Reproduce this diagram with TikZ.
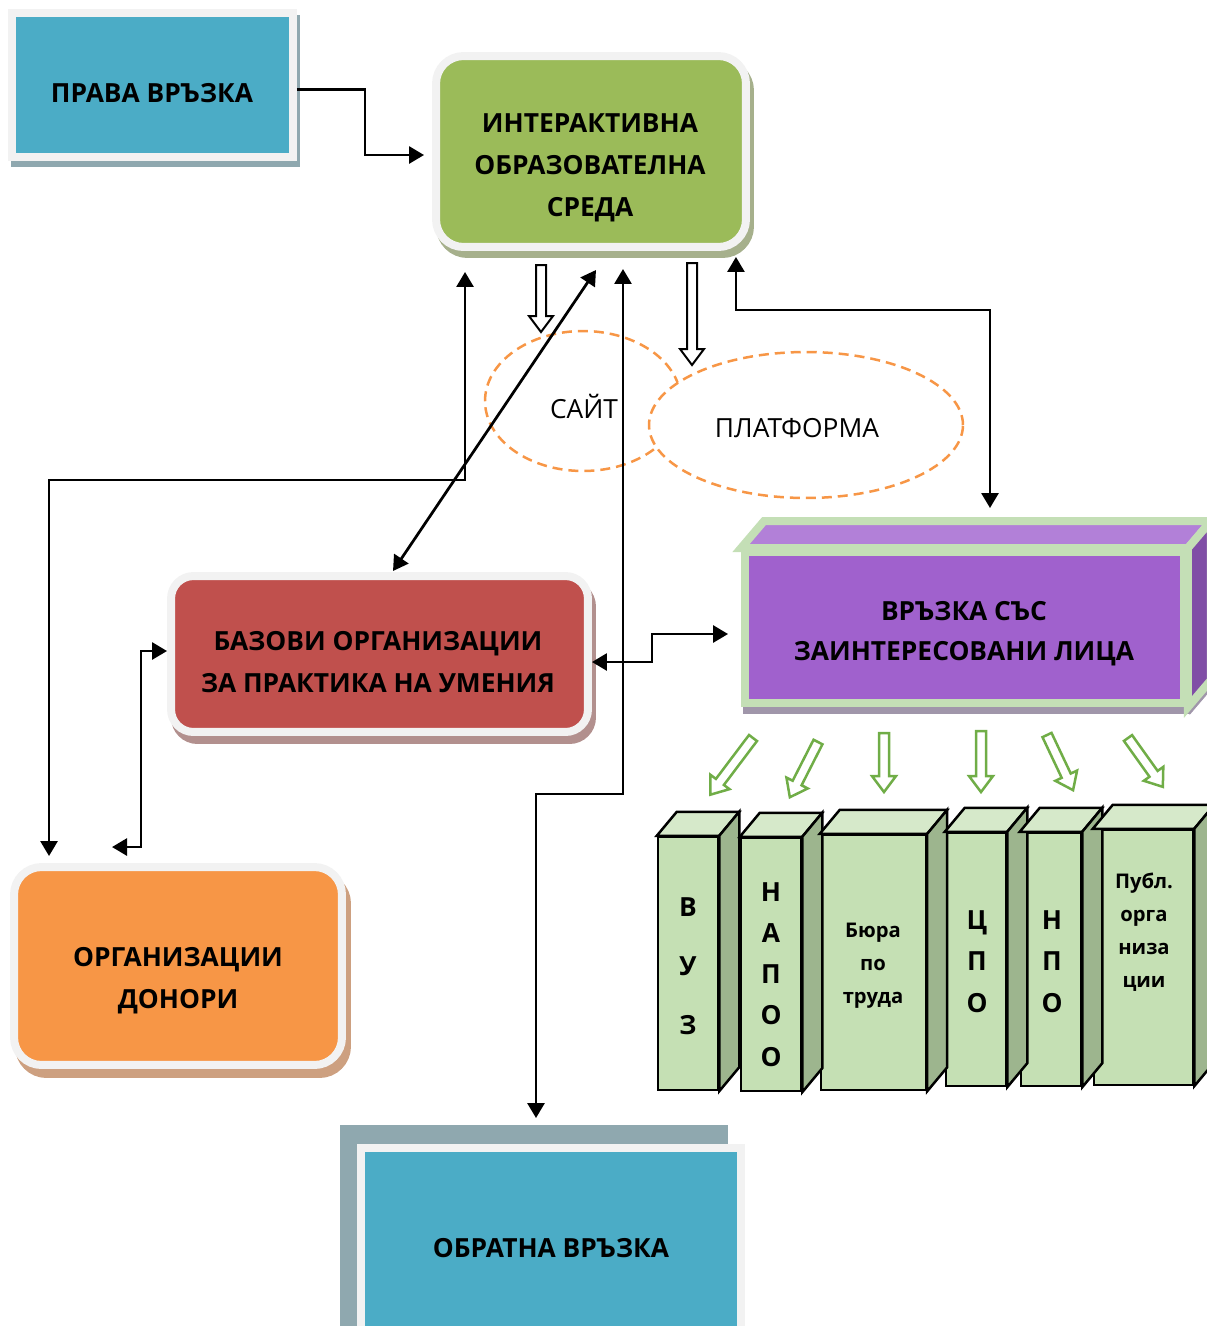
\documentclass[tikz,border=0pt]{standalone}
\usepackage{fontspec}
\setmainfont{Open Sans}
\usetikzlibrary{shapes.geometric}
\usetikzlibrary{arrows.meta}
\usetikzlibrary{calc}

\definecolor{boxblue}{RGB}{75,172,198}
\definecolor{framegray}{RGB}{242,242,242}
\definecolor{blueshadow}{RGB}{143,168,175}
\definecolor{boxgreen}{RGB}{155,187,89}
\definecolor{greenshadow}{RGB}{166,176,140}
\definecolor{boxred}{RGB}{192,80,77}
\definecolor{redshadow}{RGB}{178,144,142}
\definecolor{boxorange}{RGB}{247,150,70}
\definecolor{orangeshadow}{RGB}{205,160,128}
\definecolor{purplefront}{RGB}{160,97,205}
\definecolor{purpletop}{RGB}{178,128,216}
\definecolor{purpleside}{RGB}{128,78,166}
\definecolor{purpleedge}{RGB}{196,223,182}
\definecolor{purpleshadow}{RGB}{160,150,170}
\definecolor{bookfront}{RGB}{197,224,180}
\definecolor{bookpale}{RGB}{214,233,202}
\definecolor{bookdark}{RGB}{157,181,142}
\definecolor{arrowgreen}{RGB}{112,173,71}
\definecolor{dashorange}{RGB}{247,150,70}

% block arrow: style, tail x, tail y, angle, length
\newcommand{\blockarrow}[5]{%
  \draw[#1, shift={(#2,#3)}, rotate=#4]
    (0,-5) -- (#5-16,-5) -- (#5-16,-12) -- (#5,0) -- (#5-16,12) -- (#5-16,5) -- (0,5) -- cycle;}

\begin{document}
\begin{tikzpicture}[x=0.02cm, y=-0.02cm,
    >={Triangle[length=0.3cm,width=0.34cm]},
    box/.style={draw=framegray, line width=0.16cm, inner sep=0pt},
    shadowed/.style n args={3}{preaction={draw=#1, fill=#1, transform canvas={xshift=#2, yshift=#3}}},
    lbl/.style={font=\fontsize{15}{24}\selectfont\bfseries, align=center},
    letters/.style={font=\fontsize{15}{#1}\selectfont\bfseries, align=center},
    small/.style={font=\fontsize{11.5}{18.8}\selectfont\bfseries, align=center},
    conn/.style={line width=0.055cm, <->},
    bubble/.style={ellipse, draw=dashorange, line width=0.05cm, dash pattern=on 0.2cm off 0.12cm, inner sep=0pt},
    bubbletxt/.style={font=\fontsize{15}{18}\selectfont},
    book/.style={draw=black, line width=0.05cm, fill=bookfront, inner sep=0pt},
    topface/.style={draw=black, line width=0.05cm, fill=bookpale},
    sideface/.style={draw=black, line width=0.05cm, fill=bookdark},
    hollow/.style={draw=black, line width=0.04cm, fill=white},
    ghollow/.style={draw=arrowgreen, line width=0.05cm, fill=white},
]
    \useasboundingbox (0,0) rectangle (1207,1326);

    % Top boxes
    \node[box, fill=boxblue, shadowed={blueshadow}{0.06cm}{-0.12cm},
          minimum width=5.62cm, minimum height=2.89cm] (prava) at (152.5,84.75) {};
    \node[lbl] (pravatxt) at (152,93) {ПРАВА ВРЪЗКА};

    \node[box, fill=boxgreen, rounded corners=0.55cm, shadowed={greenshadow}{0.08cm}{-0.14cm},
          minimum width=6.2cm, minimum height=3.82cm] (sreda) at (591,151.5) {};
    \node[lbl] (sredatxt) at (590,168) {ИНТЕРАКТИВНА\\ОБРАЗОВАТЕЛНА\\СРЕДА};

    % Hollow arrows below the platform
    \blockarrow{hollow}{541}{265}{-90}{67}
    \blockarrow{hollow}{692}{263}{-90}{102}

    % Site and platform
    \node[bubble, minimum width=3.92cm, minimum height=2.8cm] (sait) at (583,401) {};
    \node[bubbletxt] (saittxt) at (584,406) {САЙТ};
    \node[bubble, fill=white, minimum width=6.28cm, minimum height=2.92cm] (platforma) at (806,425) {};
    \node[bubbletxt] (platformatxt) at (797,428) {ПЛАТФОРМА};

    % Middle boxes
    \node[box, fill=boxred, rounded corners=0.45cm, shadowed={redshadow}{0.08cm}{-0.16cm},
          minimum width=8.34cm, minimum height=3.12cm] (bazovi) at (379.5,654) {};
    \node[lbl] (bazovitxt) at (378,662) {БАЗОВИ ОРГАНИЗАЦИИ\\ЗА ПРАКТИКА НА УМЕНИЯ};

    \node[draw=purpleedge, line width=0.16cm, fill=purplefront, inner sep=0pt,
          shadowed={purpleshadow}{0.04cm}{-0.14cm},
          minimum width=8.78cm, minimum height=3.02cm] (vrazka) at (964.5,627.5) {};
    \draw[draw=purpleedge, line width=0.16cm, fill=purpletop]
        (vrazka.north west) -- ++(23,-27) -- ($(vrazka.north east)+(23,-27)$) -- (vrazka.north east) -- cycle;
    \draw[draw=purpleedge, line width=0.16cm, fill=purpleside, shadowed={purpleshadow}{0.04cm}{-0.14cm}]
        (vrazka.north east) -- ++(23,-27) -- ($(vrazka.south east)+(23,-27)$) -- (vrazka.south east) -- cycle;
    \node[letters=22.8] (vrazkatxt) at (964,633.5) {ВРЪЗКА СЪС\\ЗАИНТЕРЕСОВАНИ ЛИЦА};

    % Bottom boxes
    \node[box, fill=boxorange, rounded corners=0.55cm, shadowed={orangeshadow}{0.1cm}{-0.18cm},
          minimum width=6.56cm, minimum height=3.96cm] (donori) at (178,966) {};
    \node[lbl] (donoritxt) at (178,981) {ОРГАНИЗАЦИИ\\ДОНОРИ};

    \node[box, fill=boxblue, shadowed={blueshadow}{-0.34cm}{0.38cm},
          minimum width=7.6cm, minimum height=4.24cm] (obratna) at (551,1254) {};
    \node[lbl] (obratnatxt) at (551,1248) {ОБРАТНА ВРЪЗКА};

    % Green arrows to the partners
    \blockarrow{ghollow}{753}{738}{-127}{71}
    \blockarrow{ghollow}{818}{742}{-117}{62}
    \blockarrow{ghollow}{884}{733}{-90}{59}
    \blockarrow{ghollow}{981}{731}{-90}{61}
    \blockarrow{ghollow}{1047}{735}{-64.7}{61}
    \blockarrow{ghollow}{1128}{738}{-54.5}{60}

    % Partners
    \node[book, minimum width=1.2cm, minimum height=5.06cm] (vuz) at (688,963.5) {};
    \node[book, minimum width=1.2cm, minimum height=5.06cm] (napoo) at (771,964.5) {};
    \node[book, minimum width=2.1cm, minimum height=5.1cm] (bjuro) at (873.5,962.5) {};
    \node[book, minimum width=1.2cm, minimum height=5.06cm] (cpo) at (976,959.5) {};
    \node[book, minimum width=1.2cm, minimum height=5.06cm] (npo) at (1051,959.5) {};
    \node[book, minimum width=1.98cm, minimum height=5.1cm] (publ) at (1143.5,957.5) {};
    \foreach \b in {vuz,napoo,bjuro,cpo,npo,publ}{
        \draw[topface] (\b.north west) -- ++(20,-24) -- ($(\b.north east)+(20,-24)$) -- (\b.north east) -- cycle;
        \draw[sideface] (\b.north east) -- ++(20,-24) -- ($(\b.south east)+(20,-24)$) -- (\b.south east) -- cycle;
    }
    \node[letters=33.6] (vuztxt) at (688,966) {В\\У\\З};
    \node[letters=23.4] (napootxt) at (771,974.5) {Н\\А\\П\\О\\О};
    \node[small] (bjurotxt) at (873,966) {Бюра\\по\\труда};
    \node[letters=23.6] (cpotxt) at (977,961.5) {Ц\\П\\О};
    \node[letters=23.6] (npotxt) at (1052,961.5) {Н\\П\\О};
    \node[small] (publtxt) at (1144,932) {Публ.\\орга\\низа\\ции};

    % Lines
    \draw[line width=0.055cm, ->] ([yshift=-0.1cm]prava.east) -- ++(68,0) |- ([xshift=-0.16cm,yshift=-0.07cm]sreda.west);
    \draw[conn] ([xshift=0.78cm,yshift=0.14cm]donori.north west) -- ++(0,-376) -| ([xshift=0.66cm,yshift=-0.42cm]sreda.south west);
    \draw[conn] ([xshift=0.1cm,yshift=-0.38cm]sreda.south) -- ([xshift=0.27cm,yshift=0.02cm]bazovi.north);
    \draw[conn] ([xshift=0.64cm,yshift=-0.36cm]sreda.south) -- ++(0,525) -| ([xshift=-0.3cm,yshift=0.52cm]obratna.north);
    \draw[conn] ([xshift=-0.28cm,yshift=-0.12cm]sreda.south east) -- ++(0,53) -| ([xshift=0.51cm,yshift=0.8cm]vrazka.north);
    \draw[conn] ([yshift=-0.16cm]bazovi.east) -- ++(60,0) |- ([xshift=-0.26cm,yshift=-0.13cm]vrazka.west);
    \draw[conn] ([xshift=2.04cm,yshift=0.32cm]donori.north west) -- ++(29,0) |- ([yshift=0.06cm]bazovi.west);
\end{tikzpicture}
\end{document}
